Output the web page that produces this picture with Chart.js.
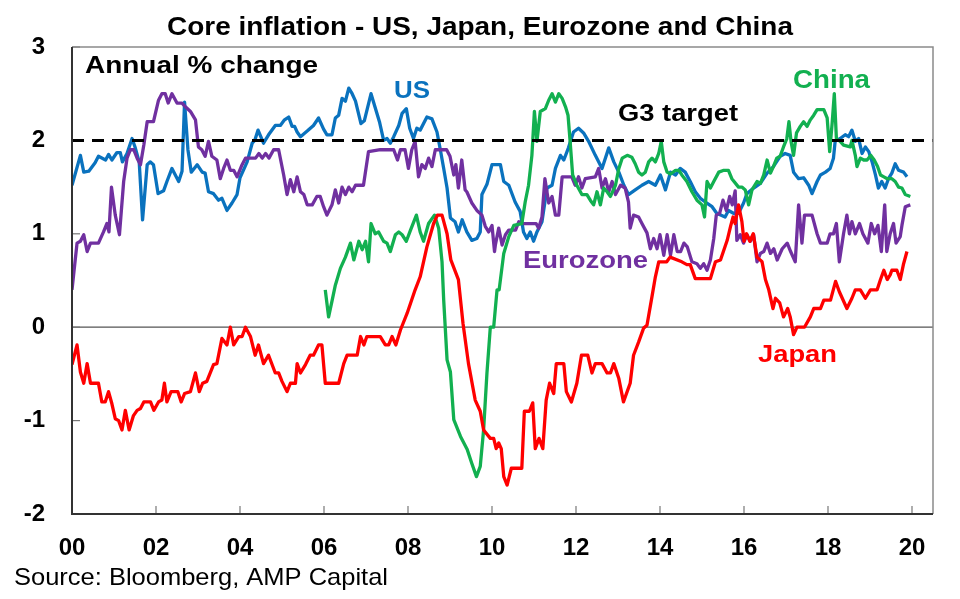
<!DOCTYPE html>
<html>
<head>
<meta charset="utf-8">
<script src="https://cdn.jsdelivr.net/npm/chart.js@4/dist/chart.umd.min.js"></script>
<style>
  html,body{margin:0;padding:0;background:#fff;}
  canvas{display:block;}
</style>
</head>
<body>
<canvas id="c" width="960" height="599"></canvas>
<script>
// monthly-ish readings, [decimal year, annual % change]
const usData = [[2000.00,1.52],[2000.20,1.84],[2000.28,1.66],[2000.40,1.67],[2000.55,1.76],[2000.63,1.83],[2000.80,1.79],[2000.87,1.85],[2000.95,1.79],[2001.07,1.87],[2001.15,1.87],[2001.20,1.77],[2001.31,1.86],[2001.43,2.02],[2001.50,1.93],[2001.60,1.77],[2001.68,1.15],[2001.79,1.74],[2001.86,1.77],[2001.94,1.74],[2002.05,1.43],[2002.18,1.46],[2002.26,1.56],[2002.38,1.70],[2002.54,1.56],[2002.62,1.67],[2002.68,2.41],[2002.76,1.90],[2002.84,1.66],[2002.98,1.74],[2003.10,1.66],[2003.17,1.65],[2003.25,1.45],[2003.37,1.43],[2003.49,1.36],[2003.57,1.38],[2003.69,1.25],[2003.81,1.33],[2003.93,1.42],[2004.00,1.60],[2004.17,1.77],[2004.29,1.97],[2004.35,2.00],[2004.43,2.11],[2004.56,1.97],[2004.68,2.06],[2004.84,2.16],[2004.96,2.16],[2005.06,2.22],[2005.16,2.25],[2005.24,2.15],[2005.30,2.15],[2005.36,2.09],[2005.44,2.04],[2005.60,2.10],[2005.75,2.16],[2005.87,2.24],[2005.99,2.12],[2006.07,2.06],[2006.19,2.06],[2006.27,2.24],[2006.35,2.27],[2006.43,2.45],[2006.51,2.42],[2006.59,2.56],[2006.67,2.50],[2006.75,2.42],[2006.88,2.18],[2006.96,2.21],[2007.12,2.50],[2007.20,2.38],[2007.32,2.20],[2007.42,2.00],[2007.50,2.02],[2007.58,1.97],[2007.66,2.04],[2007.78,2.16],[2007.86,2.29],[2007.96,2.34],[2008.04,2.13],[2008.13,2.02],[2008.21,2.13],[2008.29,2.11],[2008.45,2.25],[2008.57,2.23],[2008.69,2.09],[2008.77,1.90],[2008.85,1.70],[2008.93,1.49],[2009.01,1.17],[2009.12,1.13],[2009.20,1.02],[2009.29,1.15],[2009.40,1.02],[2009.52,0.93],[2009.64,0.95],[2009.72,1.02],[2009.76,1.42],[2009.88,1.53],[2010.00,1.74],[2010.08,1.74],[2010.20,1.74],[2010.28,1.56],[2010.40,1.52],[2010.55,1.34],[2010.67,1.24],[2010.75,1.02],[2010.83,0.95],[2010.91,1.02],[2010.99,0.92],[2011.07,1.02],[2011.19,1.13],[2011.31,1.49],[2011.43,1.52],[2011.51,1.70],[2011.63,1.84],[2011.71,1.79],[2011.82,1.92],[2011.94,2.09],[2012.06,2.13],[2012.18,2.08],[2012.30,1.99],[2012.46,1.84],[2012.62,1.70],[2012.78,1.92],[2012.90,1.77],[2013.02,1.66],[2013.14,1.52],[2013.25,1.42],[2013.41,1.47],[2013.57,1.52],[2013.73,1.56],[2013.89,1.52],[2014.01,1.63],[2014.13,1.47],[2014.25,1.66],[2014.37,1.63],[2014.48,1.70],[2014.60,1.66],[2014.72,1.56],[2014.84,1.45],[2014.96,1.38],[2015.08,1.34],[2015.24,1.29],[2015.35,1.22],[2015.55,1.18],[2015.63,1.25],[2015.75,1.22],[2015.87,1.22],[2015.99,1.33],[2016.07,1.43],[2016.23,1.49],[2016.39,1.54],[2016.55,1.65],[2016.70,1.72],[2016.86,1.83],[2016.98,1.86],[2017.10,1.84],[2017.18,1.66],[2017.30,1.59],[2017.42,1.60],[2017.54,1.52],[2017.62,1.43],[2017.74,1.56],[2017.82,1.63],[2017.94,1.66],[2018.05,1.70],[2018.13,1.81],[2018.17,1.99],[2018.29,2.02],[2018.41,2.06],[2018.49,2.04],[2018.57,2.11],[2018.65,1.99],[2018.73,2.02],[2018.81,1.86],[2018.89,1.93],[2018.97,1.88],[2019.05,1.77],[2019.13,1.63],[2019.20,1.49],[2019.28,1.56],[2019.36,1.49],[2019.44,1.59],[2019.52,1.65],[2019.60,1.75],[2019.68,1.68],[2019.80,1.66],[2019.88,1.61]];

const euroData = [[2000.00,0.40],[2000.12,0.90],[2000.20,0.92],[2000.28,0.99],[2000.36,0.81],[2000.44,0.90],[2000.63,0.90],[2000.75,1.02],[2000.83,1.11],[2000.88,1.02],[2000.94,1.50],[2001.03,1.20],[2001.13,0.99],[2001.23,1.56],[2001.31,1.81],[2001.39,1.90],[2001.47,1.90],[2001.55,1.81],[2001.63,1.74],[2001.71,1.95],[2001.79,2.20],[2001.94,2.20],[2002.06,2.43],[2002.14,2.50],[2002.22,2.50],[2002.29,2.40],[2002.38,2.50],[2002.50,2.40],[2002.62,2.40],[2002.70,2.36],[2002.82,2.31],[2002.94,2.22],[2003.01,1.93],[2003.09,1.90],[2003.17,1.83],[2003.25,1.99],[2003.33,1.83],[2003.45,1.79],[2003.53,1.59],[2003.61,1.70],[2003.69,1.79],[2003.77,1.68],[2003.85,1.68],[2003.93,1.61],[2004.05,1.74],[2004.13,1.81],[2004.37,1.81],[2004.45,1.86],[2004.53,1.81],[2004.61,1.86],[2004.69,1.81],[2004.80,1.90],[2004.92,1.90],[2005.04,1.63],[2005.12,1.42],[2005.20,1.58],[2005.28,1.45],[2005.36,1.61],[2005.44,1.45],[2005.52,1.42],[2005.60,1.31],[2005.72,1.31],[2005.83,1.40],[2005.91,1.40],[2005.99,1.29],[2006.07,1.20],[2006.19,1.31],[2006.27,1.47],[2006.35,1.33],[2006.43,1.50],[2006.51,1.42],[2006.59,1.50],[2006.67,1.45],[2006.75,1.52],[2006.94,1.52],[2007.06,1.88],[2007.34,1.90],[2007.66,1.90],[2007.75,1.79],[2007.82,1.90],[2007.93,1.90],[2008.01,1.70],[2008.09,1.90],[2008.17,1.99],[2008.25,1.61],[2008.33,1.74],[2008.41,1.70],[2008.49,1.81],[2008.57,1.72],[2008.65,1.90],[2008.92,1.90],[2009.00,1.83],[2009.09,1.63],[2009.14,1.74],[2009.20,1.49],[2009.28,1.79],[2009.36,1.47],[2009.40,1.45],[2009.52,1.33],[2009.64,1.25],[2009.76,1.20],[2009.84,1.08],[2009.92,1.02],[2010.00,1.09],[2010.06,0.81],[2010.08,0.88],[2010.16,1.06],[2010.24,0.88],[2010.32,0.99],[2010.40,1.04],[2010.56,1.04],[2010.64,1.13],[2010.75,1.11],[2011.05,1.11],[2011.11,1.06],[2011.19,1.18],[2011.26,1.59],[2011.35,1.33],[2011.43,1.40],[2011.51,1.20],[2011.59,1.20],[2011.67,1.61],[2011.90,1.61],[2011.98,1.52],[2012.06,1.61],[2012.14,1.49],[2012.22,1.59],[2012.46,1.61],[2012.54,1.70],[2012.62,1.49],[2012.70,1.59],[2012.78,1.45],[2012.86,1.56],[2012.94,1.42],[2013.06,1.52],[2013.17,1.49],[2013.25,1.34],[2013.29,1.06],[2013.37,1.20],[2013.49,1.18],[2013.57,1.11],[2013.69,1.01],[2013.77,0.84],[2013.85,0.95],[2013.93,0.84],[2014.00,0.99],[2014.09,0.77],[2014.17,0.99],[2014.25,0.77],[2014.33,0.99],[2014.41,0.81],[2014.49,0.81],[2014.57,0.90],[2014.65,0.86],[2014.76,0.70],[2014.88,0.68],[2014.96,0.63],[2015.04,0.68],[2015.12,0.61],[2015.20,0.72],[2015.28,0.95],[2015.34,1.20],[2015.42,1.22],[2015.50,1.36],[2015.58,1.25],[2015.66,1.40],[2015.72,1.31],[2015.79,1.46],[2015.83,0.93],[2015.91,0.99],[2015.99,0.90],[2016.07,0.99],[2016.15,0.92],[2016.23,0.99],[2016.31,0.70],[2016.39,0.79],[2016.47,0.81],[2016.55,0.90],[2016.63,0.79],[2016.71,0.84],[2016.79,0.72],[2016.91,0.84],[2017.03,0.90],[2017.11,0.81],[2017.22,0.70],[2017.30,1.31],[2017.38,0.90],[2017.44,1.20],[2017.62,1.20],[2017.74,1.00],[2017.82,0.90],[2017.98,0.90],[2018.05,1.00],[2018.13,1.00],[2018.20,1.11],[2018.27,0.70],[2018.37,1.00],[2018.45,1.20],[2018.51,1.00],[2018.57,1.13],[2018.65,1.00],[2018.75,1.11],[2018.83,1.00],[2018.95,0.90],[2019.03,1.11],[2019.11,1.00],[2019.19,1.09],[2019.27,0.81],[2019.35,1.31],[2019.40,0.81],[2019.48,1.00],[2019.56,1.11],[2019.62,0.90],[2019.72,0.97],[2019.76,1.09],[2019.84,1.29],[2019.96,1.31]];

const chinaData = [[2006.03,0.40],[2006.11,0.11],[2006.19,0.28],[2006.27,0.45],[2006.39,0.63],[2006.51,0.75],[2006.63,0.90],[2006.71,0.72],[2006.83,0.92],[2006.91,0.83],[2006.99,0.92],[2007.06,0.70],[2007.12,1.11],[2007.22,1.00],[2007.30,1.02],[2007.42,0.92],[2007.50,0.90],[2007.58,0.81],[2007.70,0.99],[2007.78,1.02],[2007.86,0.99],[2007.96,0.92],[2008.06,1.04],[2008.20,1.20],[2008.29,1.02],[2008.37,0.92],[2008.49,1.11],[2008.63,1.20],[2008.73,1.06],[2008.81,0.70],[2008.85,0.29],[2008.93,-0.35],[2009.01,-0.48],[2009.09,-0.99],[2009.25,-1.17],[2009.41,-1.31],[2009.52,-1.46],[2009.63,-1.60],[2009.72,-1.49],[2009.80,-1.10],[2009.88,-0.49],[2009.96,0.00],[2010.04,0.00],[2010.12,0.40],[2010.17,0.40],[2010.28,0.79],[2010.40,0.97],[2010.52,1.09],[2010.71,1.11],[2010.79,1.34],[2010.87,1.52],[2010.95,1.84],[2011.01,2.31],[2011.07,1.99],[2011.15,2.31],[2011.27,2.34],[2011.35,2.43],[2011.43,2.50],[2011.51,2.41],[2011.59,2.50],[2011.67,2.45],[2011.75,2.36],[2011.81,2.27],[2011.86,1.99],[2011.92,1.63],[2012.02,1.52],[2012.14,1.42],[2012.26,1.42],[2012.34,1.36],[2012.42,1.31],[2012.50,1.45],[2012.58,1.31],[2012.66,1.49],[2012.74,1.45],[2012.82,1.40],[2012.94,1.52],[2013.02,1.70],[2013.10,1.81],[2013.22,1.84],[2013.33,1.82],[2013.41,1.75],[2013.49,1.66],[2013.57,1.63],[2013.65,1.66],[2013.73,1.77],[2013.81,1.81],[2013.89,1.77],[2013.97,1.86],[2014.03,1.99],[2014.09,1.77],[2014.17,1.66],[2014.25,1.64],[2014.37,1.68],[2014.45,1.68],[2014.52,1.63],[2014.64,1.56],[2014.76,1.45],[2014.88,1.36],[2015.00,1.31],[2015.06,1.18],[2015.12,1.56],[2015.20,1.49],[2015.28,1.56],[2015.40,1.66],[2015.52,1.68],[2015.63,1.68],[2015.71,1.59],[2015.87,1.50],[2015.95,1.50],[2016.03,1.47],[2016.11,1.31],[2016.19,1.47],[2016.31,1.56],[2016.39,1.54],[2016.47,1.63],[2016.55,1.79],[2016.63,1.65],[2016.70,1.72],[2016.78,1.81],[2016.86,1.83],[2016.94,1.93],[2017.02,2.02],[2017.07,2.20],[2017.12,1.99],[2017.18,1.84],[2017.25,2.08],[2017.34,2.15],[2017.42,2.20],[2017.50,2.15],[2017.58,2.22],[2017.66,2.27],[2017.74,2.33],[2017.90,2.33],[2017.98,2.24],[2018.04,1.88],[2018.10,2.19],[2018.15,2.50],[2018.20,2.02],[2018.29,1.99],[2018.37,1.95],[2018.53,1.93],[2018.57,2.00],[2018.65,1.84],[2018.69,1.72],[2018.77,1.81],[2018.85,1.79],[2018.93,1.79],[2019.02,1.84],[2019.10,1.79],[2019.18,1.72],[2019.25,1.63],[2019.33,1.61],[2019.41,1.59],[2019.52,1.59],[2019.60,1.56],[2019.68,1.50],[2019.76,1.49],[2019.84,1.42],[2019.96,1.40]];

const japanData = [[2000.00,-0.40],[2000.12,-0.19],[2000.20,-0.48],[2000.28,-0.60],[2000.36,-0.39],[2000.44,-0.60],[2000.63,-0.60],[2000.71,-0.80],[2000.79,-0.80],[2000.87,-0.69],[2000.95,-0.82],[2001.03,-0.98],[2001.11,-1.00],[2001.19,-1.10],[2001.27,-0.89],[2001.36,-1.10],[2001.46,-0.95],[2001.55,-0.89],[2001.63,-0.87],[2001.71,-0.80],[2001.87,-0.80],[2001.95,-0.89],[2002.06,-0.80],[2002.14,-0.78],[2002.20,-0.60],[2002.26,-0.80],[2002.36,-0.69],[2002.52,-0.69],[2002.60,-0.80],[2002.68,-0.71],[2002.82,-0.69],[2002.94,-0.49],[2003.03,-0.69],[2003.11,-0.60],[2003.21,-0.58],[2003.37,-0.40],[2003.45,-0.39],[2003.57,-0.12],[2003.69,-0.19],[2003.77,0.00],[2003.85,-0.19],[2003.97,-0.10],[2004.05,-0.10],[2004.13,0.00],[2004.25,-0.10],[2004.36,-0.30],[2004.44,-0.19],[2004.56,-0.39],[2004.68,-0.30],[2004.84,-0.49],[2004.92,-0.49],[2005.00,-0.58],[2005.12,-0.69],[2005.20,-0.60],[2005.32,-0.60],[2005.36,-0.39],[2005.44,-0.49],[2005.56,-0.40],[2005.67,-0.30],[2005.75,-0.30],[2005.87,-0.19],[2005.95,-0.19],[2006.03,-0.60],[2006.35,-0.60],[2006.47,-0.39],[2006.55,-0.30],[2006.79,-0.30],[2006.87,-0.10],[2006.95,-0.19],[2007.02,-0.10],[2007.34,-0.10],[2007.46,-0.19],[2007.54,-0.19],[2007.62,-0.10],[2007.71,-0.19],[2007.82,-0.03],[2007.98,0.15],[2008.17,0.40],[2008.29,0.54],[2008.45,0.86],[2008.61,1.11],[2008.70,1.20],[2008.81,1.20],[2008.93,1.00],[2009.02,0.72],[2009.20,0.51],[2009.31,0.04],[2009.44,-0.39],[2009.60,-0.78],[2009.72,-0.90],[2009.80,-1.10],[2009.96,-1.19],[2010.04,-1.19],[2010.10,-1.30],[2010.16,-1.24],[2010.22,-1.30],[2010.28,-1.60],[2010.36,-1.69],[2010.46,-1.51],[2010.71,-1.51],[2010.77,-0.90],[2010.89,-0.90],[2010.97,-0.81],[2011.03,-1.30],[2011.12,-1.19],[2011.21,-1.30],[2011.29,-0.78],[2011.37,-0.60],[2011.47,-0.71],[2011.53,-0.39],[2011.71,-0.39],[2011.77,-0.69],[2011.89,-0.80],[2012.02,-0.60],[2012.13,-0.30],[2012.28,-0.30],[2012.38,-0.49],[2012.46,-0.39],[2012.62,-0.39],[2012.74,-0.49],[2012.82,-0.49],[2012.90,-0.39],[2013.02,-0.55],[2013.13,-0.80],[2013.29,-0.60],[2013.37,-0.30],[2013.49,-0.16],[2013.61,-0.01],[2013.69,0.02],[2013.81,0.33],[2013.89,0.54],[2013.97,0.70],[2014.16,0.70],[2014.24,0.75],[2014.52,0.70],[2014.64,0.67],[2014.72,0.67],[2014.84,0.52],[2015.20,0.52],[2015.32,0.70],[2015.44,0.72],[2015.60,0.93],[2015.68,1.08],[2015.74,1.18],[2015.79,1.11],[2015.87,1.31],[2015.95,1.13],[2016.00,0.92],[2016.06,1.00],[2016.14,0.92],[2016.22,1.00],[2016.31,0.75],[2016.43,0.70],[2016.51,0.51],[2016.59,0.40],[2016.69,0.20],[2016.75,0.31],[2016.85,0.26],[2016.94,0.11],[2017.04,0.20],[2017.10,0.11],[2017.18,-0.08],[2017.26,0.00],[2017.44,0.00],[2017.58,0.11],[2017.66,0.20],[2017.82,0.20],[2017.90,0.29],[2018.06,0.29],[2018.18,0.49],[2018.27,0.38],[2018.45,0.20],[2018.57,0.31],[2018.65,0.40],[2018.77,0.40],[2018.89,0.31],[2019.01,0.40],[2019.17,0.40],[2019.25,0.51],[2019.33,0.61],[2019.41,0.51],[2019.48,0.56],[2019.52,0.61],[2019.64,0.61],[2019.72,0.51],[2019.80,0.68],[2019.88,0.81]];

const g3Target = 2;
const xMin = 2000, xMax = 2020.5;
const yMin = -2, yMax = 3;

const FONT = '"Liberation Sans", Arial, Helvetica, sans-serif';
const col = { us:'#0A72BE', euro:'#7030A0', china:'#12B050', japan:'#FF0000' };
const pts = arr => arr.map(([x,y]) => ({x, y}));

// bold, slightly wide text like the original export
function txt(ctx, s, x, y, size, color, w, weight, align){
  ctx.save();
  ctx.font = (weight||'bold') + ' ' + size + 'px ' + FONT;
  const sx = w ? w / ctx.measureText(s).width : 1;
  ctx.translate(x, y); ctx.scale(sx, 1);
  ctx.fillStyle = color; ctx.textAlign = align || 'left'; ctx.textBaseline = 'alphabetic';
  ctx.fillText(s, 0, 0);
  ctx.restore();
}

const frame = {
  id:'frame',
  beforeDatasetsDraw(chart){
    const {ctx, chartArea:a, scales:{x, y}} = chart;
    ctx.save();
    // zero line
    ctx.strokeStyle = '#555'; ctx.lineWidth = 1.2;
    const y0 = y.getPixelForValue(0);
    ctx.beginPath(); ctx.moveTo(a.left, y0); ctx.lineTo(a.right, y0); ctx.stroke();
    // inward ticks
    ctx.strokeStyle = '#777'; ctx.lineWidth = 1.2;
    x.ticks.forEach(t => { const px = x.getPixelForValue(t.value);
      ctx.beginPath(); ctx.moveTo(px, a.bottom); ctx.lineTo(px, a.bottom - 8); ctx.stroke(); });
    y.ticks.forEach(t => { const py = y.getPixelForValue(t.value);
      ctx.beginPath(); ctx.moveTo(a.left, py); ctx.lineTo(a.left + 8, py); ctx.stroke(); });
    ctx.restore();
  },
  afterDatasetsDraw(chart){
    const {ctx, chartArea:a} = chart;
    ctx.save();
    ctx.strokeStyle = '#8a8a8a'; ctx.lineWidth = 1.5;
    ctx.beginPath(); ctx.moveTo(a.left, a.top); ctx.lineTo(a.right, a.top); ctx.lineTo(a.right, a.bottom); ctx.stroke();
    ctx.strokeStyle = '#333'; ctx.lineWidth = 2;
    ctx.beginPath(); ctx.moveTo(a.left, a.top); ctx.lineTo(a.left, a.bottom); ctx.lineTo(a.right, a.bottom); ctx.stroke();
    ctx.restore();

    txt(ctx, 'Core inflation - US, Japan, Eurozone and China', 480, 35, 25, '#000', 626, 'bold', 'center');
    txt(ctx, 'Annual % change', 85, 73, 24, '#000', 233);
    txt(ctx, 'US', 394, 98, 23, col.us, 36);
    txt(ctx, 'China', 793, 88, 25, col.china, 77);
    txt(ctx, 'G3 target', 618, 121, 23, '#000', 120);
    txt(ctx, 'Eurozone', 523, 268, 24, col.euro, 125);
    txt(ctx, 'Japan', 758, 362, 24, col.japan, 79);
    txt(ctx, 'Source: Bloomberg, AMP Capital', 14, 585, 24, '#000', 374, 'normal');
  }
};

const line = (label, data, color, order) => ({
  label, data: pts(data), borderColor: color, borderWidth: 3.3, pointRadius: 0,
  tension: 0, borderJoinStyle: 'round', fill: false, order
});

new Chart(document.getElementById('c'), {
  type: 'line',
  data: {
    datasets: [
      line('Japan', japanData, col.japan, 1),
      line('China', chinaData, col.china, 2),
      line('Eurozone', euroData, col.euro, 3),
      line('US', usData, col.us, 4),
      { label:'G3 target', data:[{x:xMin, y:g3Target},{x:xMax, y:g3Target}], borderColor:'#000',
        borderWidth:3, borderDash:[12,8], pointRadius:0, order:0 }
    ]
  },
  options: {
    responsive: false, animation: false, devicePixelRatio: 1,
    layout: { padding: { top: 47, right: 27, left: 0, bottom: 0 } },
    plugins: { legend: { display: false }, tooltip: { enabled: false }, title: { display: false } },
    scales: {
      x: {
        type: 'linear', min: xMin, max: xMax,
        grid: { display: false, drawTicks: false }, border: { display: false },
        ticks: { stepSize: 2, includeBounds: false, padding: 20, color: '#000',
          font: { family: FONT, size: 24, weight: 'bold' },
          maxRotation: 0, autoSkip: false,
          callback: v => String(Math.round(v) % 100).padStart(2, '0') },
        afterFit: s => { s.height = 85; }
      },
      y: {
        min: yMin, max: yMax,
        grid: { display: false, drawTicks: false }, border: { display: false },
        ticks: { stepSize: 1, padding: 27, color: '#000',
          font: { family: FONT, size: 24, weight: 'bold' } },
        afterFit: s => { s.width = 72; }
      }
    }
  },
  plugins: [frame]
});
</script>
</body>
</html>
